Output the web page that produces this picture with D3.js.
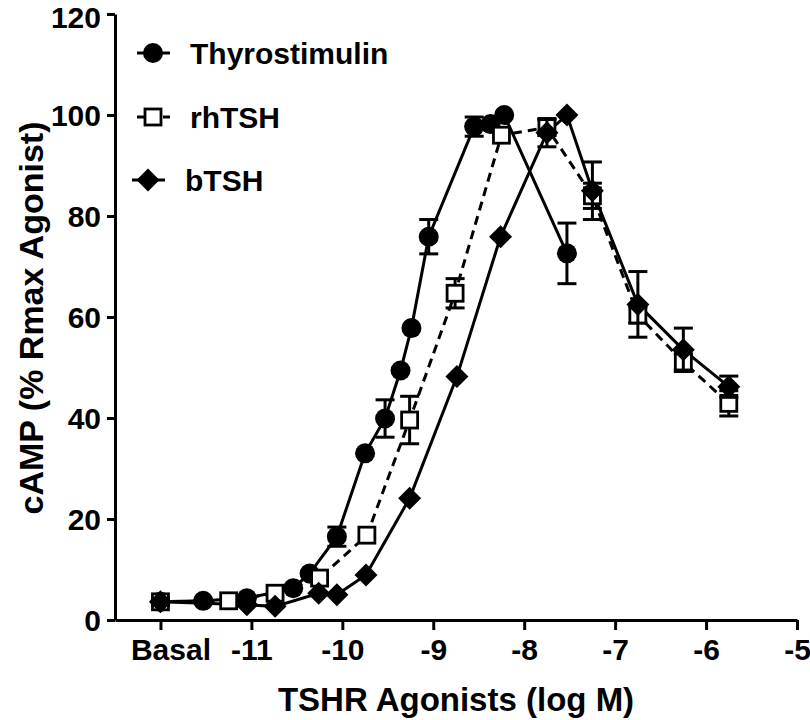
<!DOCTYPE html>
<html><head><meta charset="utf-8">
<script src="https://cdn.jsdelivr.net/npm/d3@7"></script>
<style>body{margin:0;background:#fff}svg{display:block}text{font-family:"Liberation Sans",Arial,sans-serif;font-weight:bold}</style>
</head><body>
<script>
// ---- data (log M ; % Rmax) ----
const xTicks = [-12, -11, -10, -9, -8, -7, -6, -5];
const xTickLabels = ["Basal", "-11", "-10", "-9", "-8", "-7", "-6", "-5"];
const yTicks = [0, 20, 40, 60, 80, 100, 120];

const thyroX = [-12, -11.53, -11.05, -10.54, -10.36, -10.06, -9.75, -9.53, -9.36, -9.24, -9.05, -8.55, -8.37, -8.22, -7.53];
const thyroY = [3.6, 3.8, 4.3, 6.3, 9.2, 16.5, 33, 39.9, 49.4, 57.8, 75.9, 97.7, 98.2, 100, 72.6];
const thyroErr = [0, 0, 0, 0, 0, 1.9, 0, 3.7, 0, 0, 3.4, 1.9, 0, 0, 6];

const rhX = [-12, -11.25, -10.74, -10.25, -9.73, -9.26, -8.76, -8.25, -7.75, -7.25, -6.75, -6.25, -5.75];
const rhY = [3.6, 3.8, 5.3, 8.3, 16.8, 39.6, 64.7, 96, 97.5, 84, 60.4, 51.1, 42.9];
const rhErr = [0.5, 0, 0, 0, 0, 4.7, 2.9, 0, 1.5, 2.5, 1.6, 1.6, 2.5];

const bX = [-12, -11.05, -10.74, -10.26, -10.06, -9.74, -9.26, -8.74, -8.26, -7.75, -7.53, -7.25, -6.75, -6.25, -5.75];
const bY = [3.6, 3.0, 2.7, 5.3, 5.0, 8.9, 24.1, 48.2, 75.9, 96.5, 100, 85, 62.5, 53.5, 46.2];
const bErr = [0, 0, 0, 0, 0, 0, 0, 0, 0, 2.8, 0, 5.7, 6.5, 4.3, 2.1];

const seriesNames = ["Thyrostimulin", "rhTSH", "bTSH"];

const W = 810, H = 720;
const svg = d3.select("body").append("svg").attr("width", W).attr("height", H);

const x = d3.scaleLinear().domain([-12.5, -5]).range([115, 797]);
const y = d3.scaleLinear().domain([0, 120]).range([620, 14]);

// axes
const xAxis = svg.append("g").attr("transform", `translate(0,${y(0)})`)
  .call(d3.axisBottom(x).tickValues(xTicks).tickFormat((d, i) => xTickLabels[i]).tickSize(10).tickSizeOuter(0).tickPadding(9));
const yAxis = svg.append("g").attr("transform", `translate(${x(-12.5)},0)`)
  .call(d3.axisLeft(y).tickValues(yTicks).tickSize(8).tickSizeOuter(0).tickPadding(6));
[xAxis, yAxis].forEach(g => {
  g.selectAll("path,line").attr("stroke", "#000").attr("stroke-width", 3);
  g.selectAll("text").attr("fill", "#000").style("font-size", "30px").style("font-family", '"Liberation Sans",Arial,sans-serif').style("font-weight", "bold");
});
yAxis.selectAll("text").attr("dy", d => d === 120 ? "0.44em" : "0.36em");
xAxis.selectAll("text").filter(d => d === -12).attr("dx", 10);

svg.append("text").attr("x", 456).attr("y", 711).attr("text-anchor", "middle")
  .style("font-size", "33px").text("TSHR Agonists (log M)");
svg.append("text").attr("transform", "translate(43,318) rotate(-90)").attr("text-anchor", "middle")
  .style("font-size", "34px").text("cAMP (% Rmax Agonist)");

function mk(xs, ys, es) { return xs.map((v, i) => ({x: v, y: ys[i], e: es[i]})); }
const series = [
  {name: seriesNames[0], data: mk(thyroX, thyroY, thyroErr), dash: null, shape: "circle"},
  {name: seriesNames[1], data: mk(rhX, rhY, rhErr), dash: "9,6", shape: "square"},
  {name: seriesNames[2], data: mk(bX, bY, bErr), dash: null, shape: "diamond"}
];

const line = d3.line().x(d => x(d.x)).y(d => y(d.y));

function drawMarker(g, shape, cx, cy) {
  if (shape === "circle") g.append("circle").attr("cx", cx).attr("cy", cy).attr("r", 10).attr("fill", "#000");
  else if (shape === "square") g.append("rect").attr("x", cx - 8).attr("y", cy - 8).attr("width", 16).attr("height", 16)
      .attr("fill", "#fff").attr("stroke", "#000").attr("stroke-width", 2.8);
  else g.append("path").attr("d", `M${cx},${cy - 11.5}L${cx + 11.5},${cy}L${cx},${cy + 11.5}L${cx - 11.5},${cy}Z`).attr("fill", "#000");
}

series.forEach(s => {
  svg.append("path").datum(s.data).attr("d", line).attr("fill", "none").attr("stroke", "#000")
    .attr("stroke-width", 3).attr("stroke-dasharray", s.dash);
});
series.forEach(s => {
  const g = svg.append("g");
  s.data.filter(d => d.e > 0).forEach(d => {
    const cx = x(d.x), t = y(d.y + d.e), b = y(d.y - d.e);
    g.append("line").attr("x1", cx).attr("x2", cx).attr("y1", t).attr("y2", b).attr("stroke", "#000").attr("stroke-width", 3);
    [t, b].forEach(yy => g.append("line").attr("x1", cx - 9.5).attr("x2", cx + 9.5).attr("y1", yy).attr("y2", yy).attr("stroke", "#000").attr("stroke-width", 3));
  });
  s.data.forEach(d => drawMarker(g, s.shape, x(d.x), y(d.y)));
});

// legend
const legY = [53, 117, 180];
const legX = [153, 153, 148];
series.forEach((s, i) => {
  const g = svg.append("g");
  g.append("line").attr("x1", legX[i] - 16).attr("x2", legX[i] + 17).attr("y1", legY[i]).attr("y2", legY[i])
    .attr("stroke", "#000").attr("stroke-width", 3).attr("stroke-dasharray", s.dash ? "7,6" : null);
  drawMarker(g, s.shape, legX[i], legY[i]);
  g.append("text").attr("x", i === 2 ? 185 : 190).attr("y", legY[i]).attr("dy", "0.36em").style("font-size", "30px").text(s.name);
});
</script>
</body></html>
